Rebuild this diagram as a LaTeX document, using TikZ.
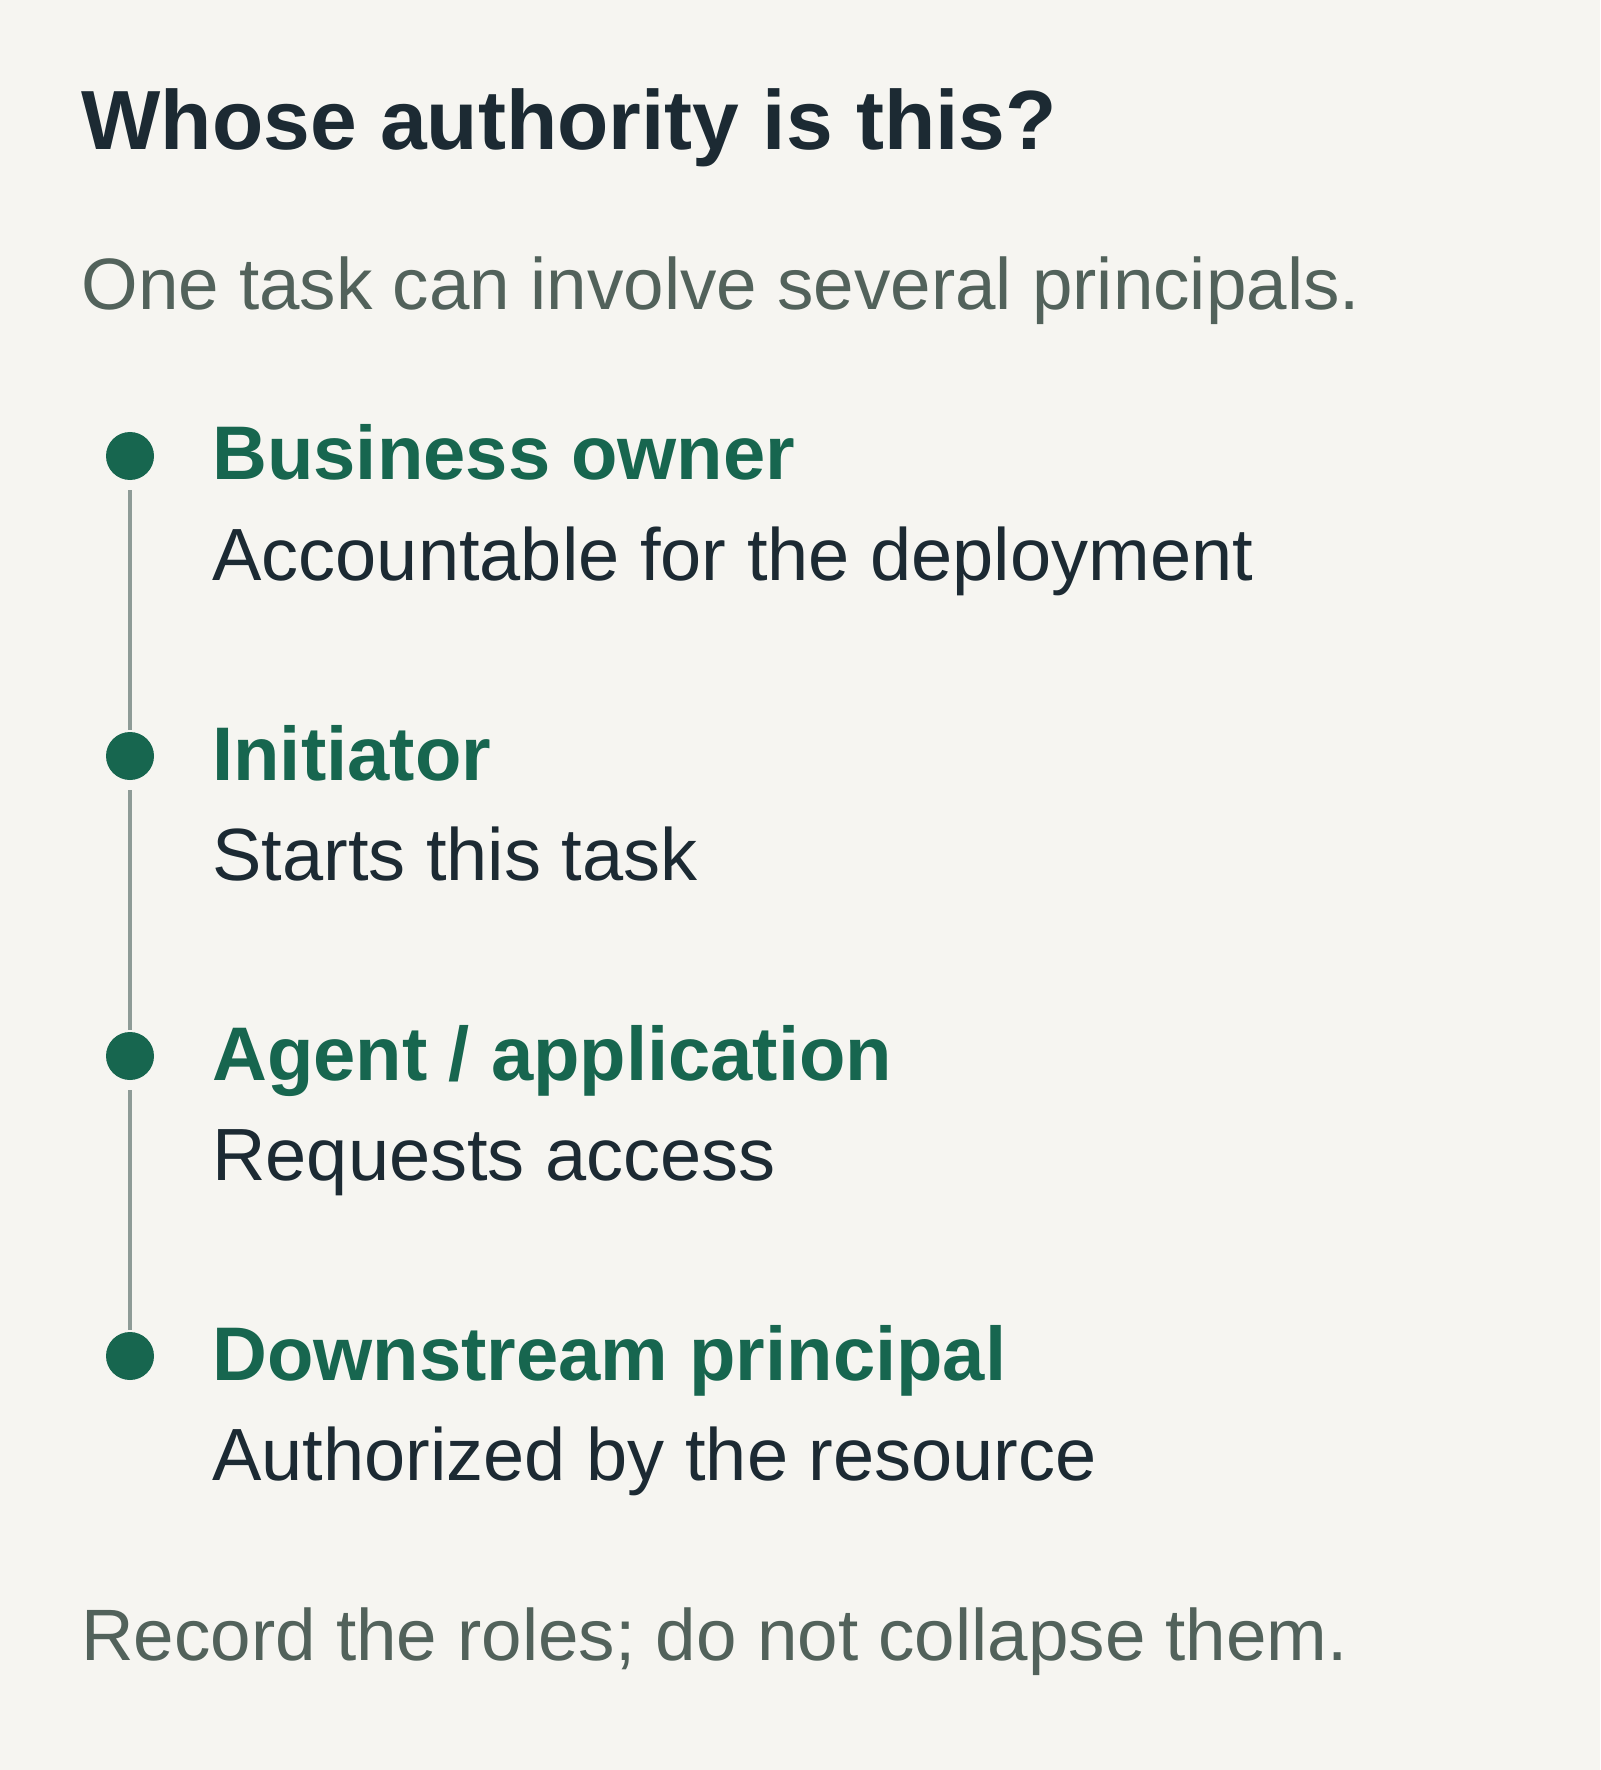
\documentclass[tikz,border=0pt]{standalone}
\usepackage{fontspec}
\setmainfont{Liberation Sans}
\usepackage{xcolor}
\usepackage{tikz}
\usetikzlibrary{positioning}

\definecolor{paper}{HTML}{F6F5F1}
\definecolor{ink}{HTML}{1C2A33}
\definecolor{muted}{HTML}{52625B}
\definecolor{leaf}{HTML}{17664F}
\definecolor{spinegray}{HTML}{8E9B97}

\begin{document}
\begin{tikzpicture}[x=0.5pt, y=-0.5pt,
        txt/.style={anchor=base west, inner sep=0pt},
        title/.style={txt, text=ink, font=\bfseries\fontsize{42}{50}\selectfont},
        note/.style={txt, text=muted, font=\fontsize{36.4}{44}\selectfont},
        role/.style={txt, text=leaf, font=\bfseries\fontsize{38}{46}\selectfont},
        duty/.style={txt, text=ink, font=\fontsize{37}{45}\selectfont},
        dot/.style={circle, fill=leaf, inner sep=0pt, minimum size=24pt},
        spine/.style={draw=spinegray, line width=2pt, shorten <=5pt, shorten >=1pt}]

        % Canvas
        \fill[paper] (0,0) rectangle (1600,1770);
        \useasboundingbox (0,0) rectangle (1600,1770);

        % Parameters
        \def\leftMargin{81}     % x of title and notes
        \def\dotX{130}          % x of the timeline
        \def\textX{212}         % x of role texts
        \def\firstDot{456}      % y of first dot
        \def\gap{300}           % distance between roles

        % Header
        \node[title] (head) at (\leftMargin,150) {Whose authority is this?};
        \node[note] (sub) at (\leftMargin,310) {One task can involve several principals.};

        % Roles
        \foreach \role/\duty [count=\i, evaluate=\i as \y using \firstDot+\gap*(\i-1)] in
            {Business owner/Accountable for the deployment,
             Initiator/Starts this task,
             {Agent / application}/Requests access,
             Downstream principal/Authorized by the resource} {
            \node[dot] (dot\i) at (\dotX,\y) {};
            \node[role] (role\i) at (\textX,\y+24) {\role};
            \node[duty] (duty\i) at (\textX,\y+124) {\duty};
        }

        % Timeline
        \foreach \i [evaluate=\i as \j using int(\i+1)] in {1,2,3} {
            \draw[spine] (dot\i) -- (dot\j);
        }

        % Footer
        \node[note] (foot) at (\leftMargin,1660) {Record the roles; do not collapse them.};

\end{tikzpicture}
\end{document}
